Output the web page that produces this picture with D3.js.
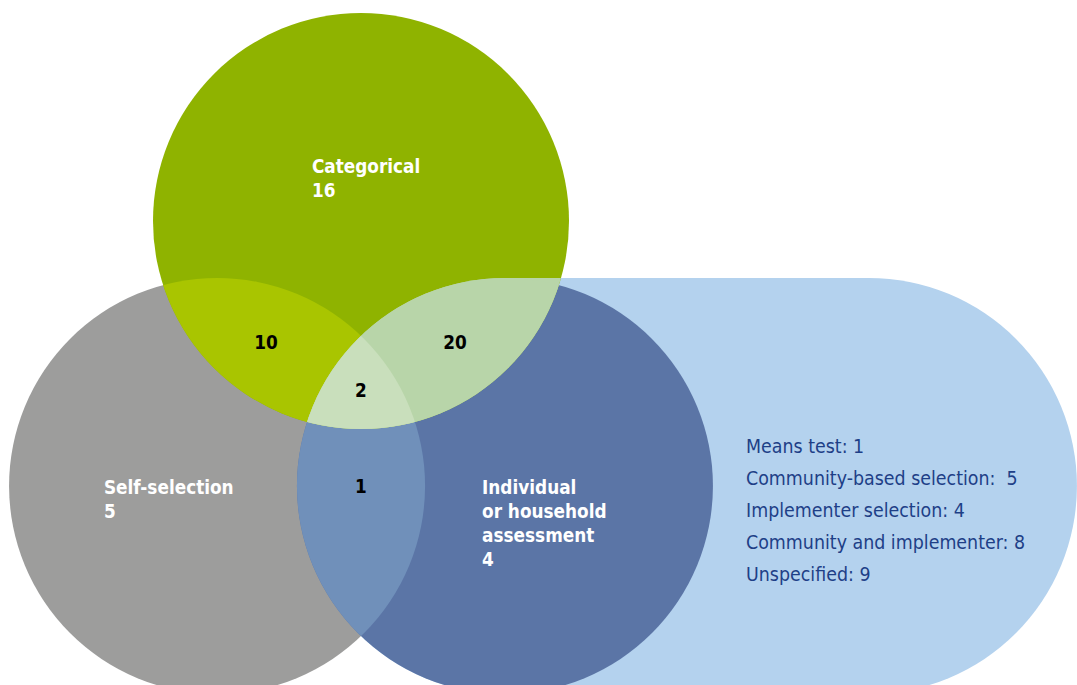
<!DOCTYPE html>
<html>
<head>
<meta charset="utf-8">
<script src="https://cdn.jsdelivr.net/npm/d3@7"></script>
<style>
html,body{margin:0;padding:0;background:#fff;overflow:hidden;}
svg{display:block;}
.lbl{font-family:"DejaVu Sans Condensed","DejaVu Sans",sans-serif;font-stretch:condensed;font-weight:bold;font-size:18.8px;}
.lst{font-family:"DejaVu Sans Condensed","DejaVu Sans",sans-serif;font-stretch:condensed;font-size:19.4px;}
</style>
</head>
<body>
<script>
// ---- data ----
const setNames = ["Categorical", "Self-selection", "Individual\nor household\nassessment"];
const setValues = [16, 5, 4];
const pairNames = ["Categorical ∩ Self-selection", "Categorical ∩ Individual", "Self-selection ∩ Individual"];
const pairValues = [10, 20, 1];
const tripleValue = 2;
const subLabels = ["Means test", "Community-based selection", "Implementer selection", "Community and implementer", "Unspecified"];
const subValues = [1, 5, 4, 8, 9];
const subSeps = [": ", ":  ", ": ", ": ", ": "];

// ---- layout (unit = one circle radius) ----
const W = 1077, H = 685;
const R = 208;
const x = d3.scaleLinear().domain([0, 1]).range([361, 361 + R]);
const y = d3.scaleLinear().domain([0, 1]).range([221, 221 + R]);
const circ = {
  cat:  {u: 0,      v: 0},
  self: {u: -0.692, v: 1.274},
  ind:  {u: 0.692,  v: 1.274}
};
const pillRightU = 2.442;

const col = {
  cat: "#8FB300", self: "#9D9D9C", ind: "#5B75A6", pill: "#B4D2EE",
  catSelf: "#A9C500", catInd: "#B8D5A9", selfInd: "#7090BA", all: "#C9DFBC",
  white: "#ffffff", dark: "#000000", list: "#1E3F87"
};

const svg = d3.select("body").append("svg").attr("width", W).attr("height", H);
const defs = svg.append("defs");

function circleAttrs(sel, c) {
  return sel.attr("cx", x(c.u)).attr("cy", y(c.v)).attr("r", x(1) - x(0));
}
function pillAttrs(sel) {
  const r = x(1) - x(0);
  return sel.attr("x", x(circ.ind.u - 1)).attr("y", y(circ.ind.v - 1))
    .attr("width", x(pillRightU + 1) - x(circ.ind.u - 1))
    .attr("height", 2 * r).attr("rx", r).attr("ry", r);
}

["cat", "self", "ind"].forEach(k => {
  circleAttrs(defs.append("clipPath").attr("id", "clip-" + k).append("circle"), circ[k]);
});
pillAttrs(defs.append("clipPath").attr("id", "clip-pill").append("rect"));

// base shapes
pillAttrs(svg.append("rect")).attr("fill", col.pill);
circleAttrs(svg.append("circle"), circ.self).attr("fill", col.self);
circleAttrs(svg.append("circle"), circ.ind).attr("fill", col.ind);
circleAttrs(svg.append("circle"), circ.cat).attr("fill", col.cat);

// pairwise overlaps
circleAttrs(svg.append("circle"), circ.self).attr("clip-path", "url(#clip-ind)").attr("fill", col.selfInd);
circleAttrs(svg.append("circle"), circ.cat).attr("clip-path", "url(#clip-self)").attr("fill", col.catSelf);
pillAttrs(svg.append("rect")).attr("clip-path", "url(#clip-cat)").attr("fill", col.catInd);
circleAttrs(svg.append("circle"), circ.cat).attr("clip-path", "url(#clip-ind)").attr("fill", col.catInd);
// triple overlap
circleAttrs(svg.append("g").attr("clip-path", "url(#clip-cat)").append("circle"), circ.self)
  .attr("clip-path", "url(#clip-ind)").attr("fill", col.all);

// set labels (unit positions)
const setLabelPos = [{u: -0.236, v: -0.233}, {u: -1.236, v: 1.312}, {u: 0.582, v: 1.312}];
const lineH = 24;
setNames.forEach((name, i) => {
  const lines = name.split("\n").concat([String(setValues[i])]);
  const t = svg.append("text").attr("class", "lbl").attr("fill", col.white)
    .attr("x", x(setLabelPos[i].u)).attr("y", y(setLabelPos[i].v));
  lines.forEach((ln, j) => {
    t.append("tspan").attr("x", x(setLabelPos[i].u)).attr("dy", j === 0 ? 0 : lineH).text(ln);
  });
});

// overlap numbers
const pairPos = [{u: -0.457, v: 0.615}, {u: 0.452, v: 0.615}, {u: 0, v: 1.308}];
pairValues.forEach((v, i) => {
  svg.append("text").attr("class", "lbl").attr("fill", col.dark).attr("text-anchor", "middle")
    .attr("x", x(pairPos[i].u)).attr("y", y(pairPos[i].v)).text(v);
});
svg.append("text").attr("class", "lbl").attr("fill", col.dark).attr("text-anchor", "middle")
  .attr("x", x(0)).attr("y", y(0.846)).text(tripleValue);

// sub-list inside pill
const listX = x(1.851);
const listY = d3.scalePoint().domain(subLabels).range([y(1.115), y(1.731)]);
subLabels.forEach((s, i) => {
  svg.append("text").attr("class", "lst").attr("fill", col.list)
    .attr("x", listX).attr("y", listY(s))
    .attr("xml:space", "preserve").style("white-space", "pre")
    .text(s + subSeps[i] + subValues[i]);
});
</script>
</body>
</html>
